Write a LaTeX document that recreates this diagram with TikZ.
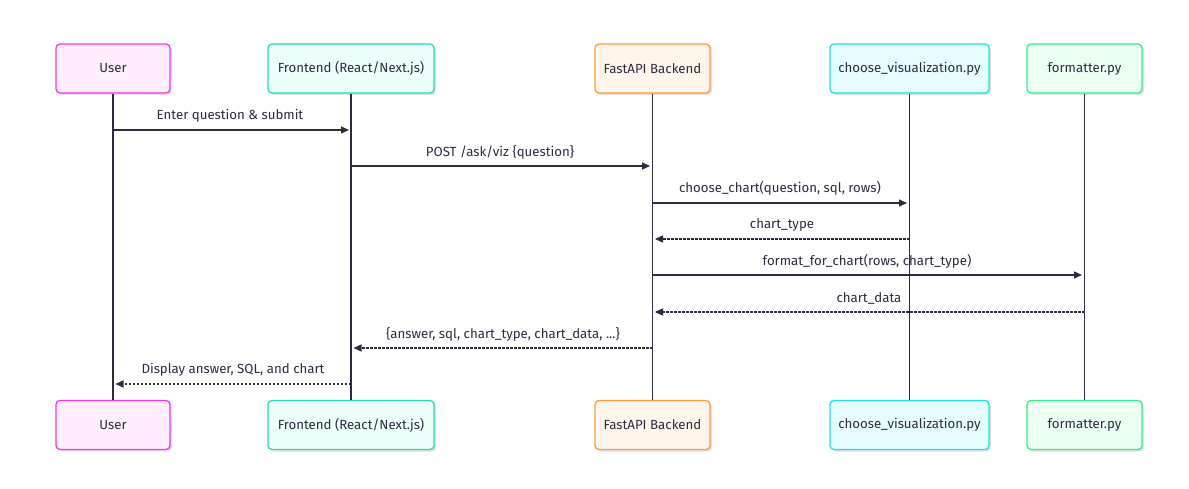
\documentclass[tikz,border=0pt]{standalone}
\usepackage{fontspec}
\setmainfont{Fira Sans}
\usetikzlibrary{arrows.meta,shadows}
\definecolor{txt}{HTML}{2E2A40}
\definecolor{line}{HTML}{2E2A40}
\tikzset{
  actor/.style={draw, line width=1.3bp, rounded corners=4bp, minimum height=49bp, text=txt,
     font=\fontsize{13.3}{15}\selectfont, inner sep=0pt,
     drop shadow={shadow xshift=2bp, shadow yshift=-2bp, opacity=0.12, fill=black}},
  life/.style={draw=line, line width=1.3bp},
  msg/.style={draw=line, line width=1.3bp, -{Triangle[length=8bp,width=7bp]}},
  reply/.style={msg, dash pattern=on 2.5bp off 1.5bp},
  lbl/.style={text=txt, font=\fontsize{13.3}{15}\selectfont, inner sep=0pt},
}
\definecolor{uB}{HTML}{F733F0}\definecolor{uF}{HTML}{FFEEFD}
\definecolor{fB}{HTML}{22DDBB}\definecolor{fF}{HTML}{EDFFFB}
\definecolor{bB}{HTML}{FF9A3C}\definecolor{bF}{HTML}{FFF6EB}
\definecolor{cB}{HTML}{22DDEE}\definecolor{cF}{HTML}{E6FDFF}
\definecolor{pB}{HTML}{33EE88}\definecolor{pF}{HTML}{ECFFF3}
\begin{document}
\begin{tikzpicture}[x=1bp,y=-1bp]
\fill[white] (0,0) rectangle (1189,489);
\useasboundingbox (0,0) rectangle (1189,489);
% top actors
\node[actor, draw=uB, fill=uF, minimum width=114bp] (u1) at (113,68.5) {User};
\node[actor, draw=fB, fill=fF, minimum width=166bp] (f1) at (351,68.5) {Frontend (React/Next.js)};
\node[actor, draw=bB, fill=bF, minimum width=115bp] (b1) at (652.5,68.5) {FastAPI Backend};
\node[actor, draw=cB, fill=cF, minimum width=159bp] (c1) at (909.5,68.5) {choose\_visualization.py};
\node[actor, draw=pB, fill=pF, minimum width=115bp] (p1) at (1084.5,68.5) {formatter.py};
% bottom actors
\node[actor, draw=uB, fill=uF, minimum width=114bp] (u2) at (113,425) {User};
\node[actor, draw=fB, fill=fF, minimum width=166bp] (f2) at (351,425) {Frontend (React/Next.js)};
\node[actor, draw=bB, fill=bF, minimum width=115bp] (b2) at (652.5,425) {FastAPI Backend};
\node[actor, draw=cB, fill=cF, minimum width=159bp] (c2) at (909.5,425) {choose\_visualization.py};
\node[actor, draw=pB, fill=pF, minimum width=115bp] (p2) at (1084.5,425) {formatter.py};
% lifelines
\draw[life] (u1.south) -- (u2.north);
\draw[life] (f1.south) -- (f2.north);
\draw[life] (b1.south) -- (b2.north);
\draw[life] (c1.south) -- (c2.north);
\draw[life] (p1.south) -- (p2.north);
% message endpoints
\coordinate (m1a) at (113,130); \coordinate (m1b) at (349,130);
\coordinate (m2a) at (351,166); \coordinate (m2b) at (650,166);
\coordinate (m3a) at (652.5,203); \coordinate (m3b) at (907,203);
\coordinate (m4a) at (909.5,239); \coordinate (m4b) at (655,239);
\coordinate (m5a) at (652.5,275); \coordinate (m5b) at (1082,275);
\coordinate (m6a) at (1084.5,312); \coordinate (m6b) at (655,312);
\coordinate (m7a) at (652.5,348); \coordinate (m7b) at (353.5,348);
\coordinate (m8a) at (351,384); \coordinate (m8b) at (115.5,384);
\draw[msg] (m1a) -- (m1b);
\draw[msg] (m2a) -- (m2b);
\draw[msg] (m3a) -- (m3b);
\draw[reply] (m4a) -- (m4b);
\draw[msg] (m5a) -- (m5b);
\draw[reply] (m6a) -- (m6b);
\draw[reply] (m7a) -- (m7b);
\draw[reply] (m8a) -- (m8b);
% labels
\node[lbl] (l1) at (230,116) {Enter question \& submit};
\node[lbl] (l2) at (500,152) {POST /ask/viz \{question\}};
\node[lbl] (l3) at (780,188) {choose\_chart(question, sql, rows)};
\node[lbl] (l4) at (782,225) {chart\_type};
\node[lbl] (l5) at (867,261) {format\_for\_chart(rows, chart\_type)};
\node[lbl] (l6) at (869,298) {chart\_data};
\node[lbl] (l7) at (503,334) {\{answer, sql, chart\_type, chart\_data, ...\}};
\node[lbl] (l8) at (233,370) {Display answer, SQL, and chart};
\end{tikzpicture}
\end{document}
